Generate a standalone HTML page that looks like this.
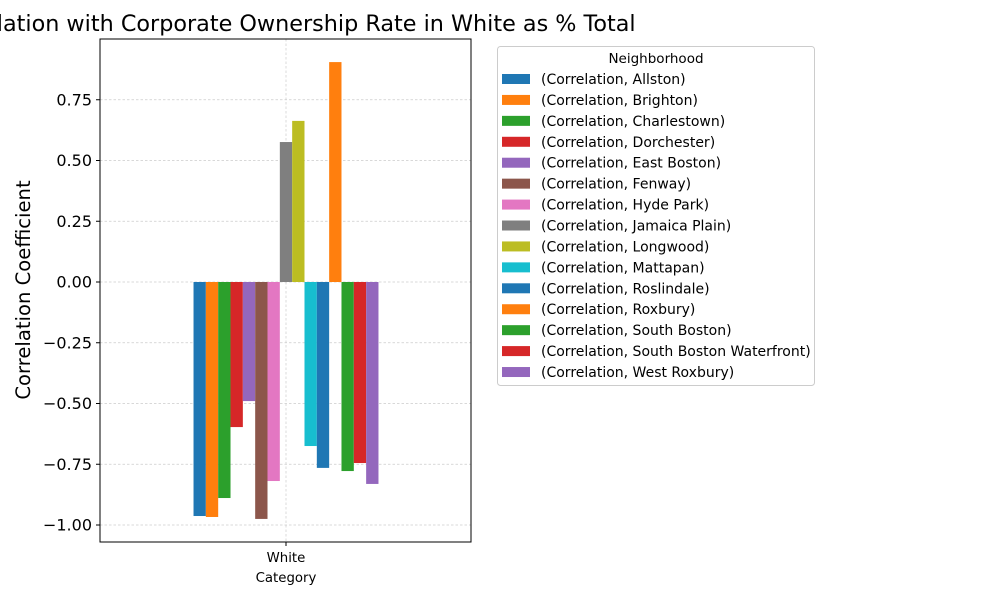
<!DOCTYPE html>
<html><head><meta charset="utf-8"><style>body{margin:0;background:#fff}svg{display:block;font-family:"DejaVu Sans","Liberation Sans",sans-serif}</style></head>
<body>
<svg id="chart" width="1000" height="600"></svg>
<script>
const categories=["Allston","Brighton","Charlestown","Dorchester","East Boston","Fenway","Hyde Park","Jamaica Plain","Longwood","Mattapan","Roslindale","Roxbury","South Boston","South Boston Waterfront","West Roxbury"];
const values=[-0.963,-0.967,-0.889,-0.597,-0.49,-0.975,-0.819,0.576,0.663,-0.675,-0.765,0.905,-0.778,-0.745,-0.831];
const colors=["#1f77b4","#ff7f0e","#2ca02c","#d62728","#9467bd","#8c564b","#e377c2","#7f7f7f","#bcbd22","#17becf","#1f77b4","#ff7f0e","#2ca02c","#d62728","#9467bd"];
const yTicks=[-1.0,-0.75,-0.5,-0.25,0,0.25,0.5,0.75];
const NS="http://www.w3.org/2000/svg";
const svg=document.getElementById('chart');
const L=100,R=471,T=39,B=542;
const y=v=>282-v*243;
function mk(t,a,p){const e=document.createElementNS(NS,t);for(const k in a)e.setAttribute(k,a[k]);(p||svg).appendChild(e);return e;}
yTicks.forEach(v=>{
 const g=mk('line',{x1:L,x2:R,y1:y(v),y2:y(v),stroke:'#ccc','stroke-width':0.7,'stroke-dasharray':'2.5,2'});
 
 
 mk('line',{x1:L-4,x2:L,y1:y(v),y2:y(v),stroke:'#000'});
 const t=mk('text',{x:L-8,y:y(v)+5.5,'text-anchor':'end','font-size':16});
 t.textContent=v.toFixed(2).replace('-','\u2212');
 
 
});
mk('line',{x1:286,x2:286,y1:T,y2:B,stroke:'#ccc','stroke-width':0.7,'stroke-dasharray':'2.5,2'});
const n=values.length,bw=12.33,x0=286-n*bw/2;
values.forEach((v,i)=>{
 const r=mk('rect',{x:x0+i*bw,y:Math.min(y(v),y(0)),width:bw,height:Math.abs(y(v)-y(0)),fill:colors[i]});
 
 
});
mk('rect',{x:L,y:T,width:R-L,height:B-T,fill:'none',stroke:'#000','stroke-width':1});
mk('line',{x1:286,x2:286,y1:B,y2:B+4,stroke:'#000'});
let t=mk('text',{x:286,y:562,'text-anchor':'middle','font-size':13.3});t.textContent='White';

t=mk('text',{x:286,y:582,'text-anchor':'middle','font-size':13.3});t.textContent='Category';

t=mk('text',{x:0,y:0,'text-anchor':'middle','font-size':19.6,transform:'translate(30,290) rotate(-90)'});t.textContent='Correlation Coefficient';

t=mk('text',{x:286,y:31,'text-anchor':'middle','font-size':22.3});t.textContent='Correlation with Corporate Ownership Rate in White as % Total';

const lg=mk('g',{});

mk('rect',{x:497.5,y:46.5,width:317,height:339,rx:3,fill:'#fff',stroke:'#ccc'},lg);
t=mk('text',{x:656,y:63,'text-anchor':'middle','font-size':13.5},lg);t.textContent='Neighborhood';
categories.forEach((c,i)=>{
 const yy=79+i*20.93;
 const g=mk('g',{},lg);
 
 
 mk('rect',{x:502,y:yy-5,width:28,height:10,fill:colors[i]},g);
 const tx=mk('text',{x:541,y:yy+5,'font-size':14},g);tx.textContent='(Correlation, '+c+')';
});
</script>
</body></html>
